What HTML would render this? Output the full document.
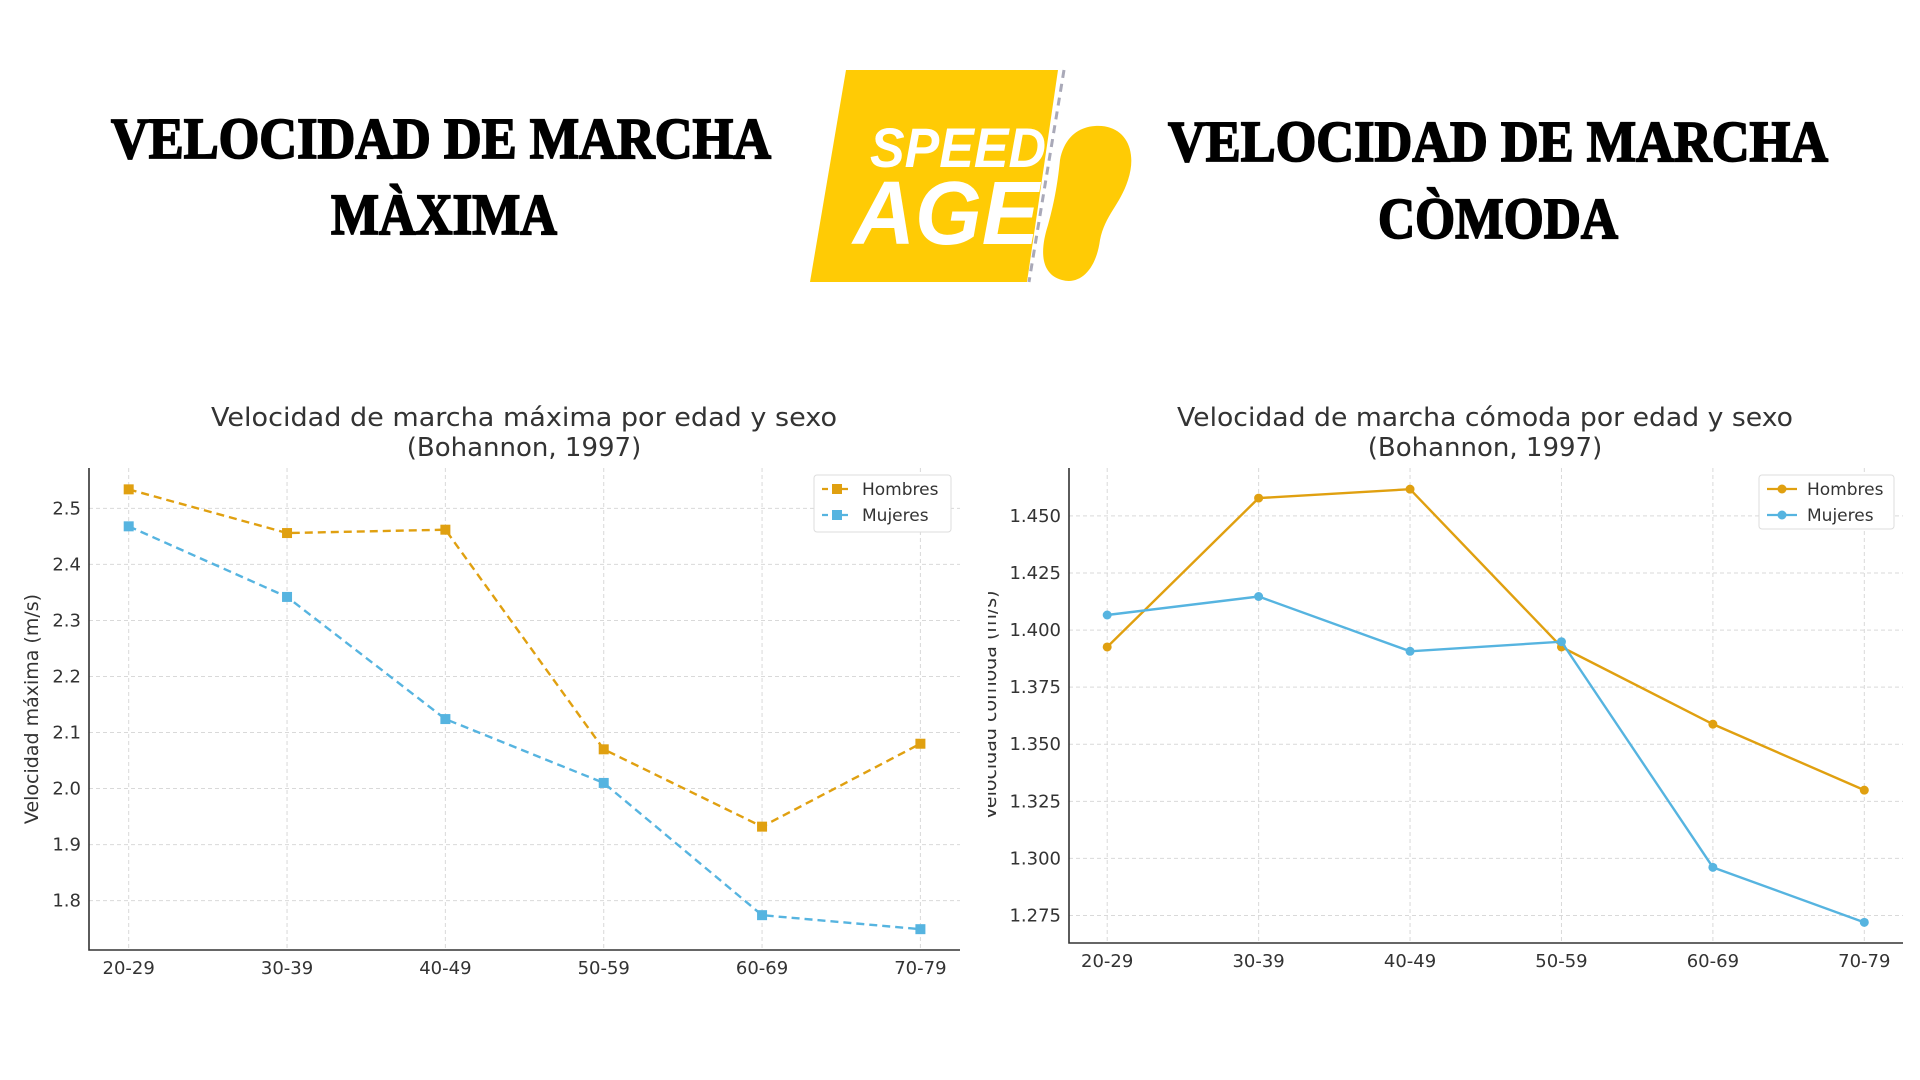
<!DOCTYPE html>
<html><head><meta charset="utf-8"><style>
html,body{margin:0;padding:0;background:#fff;}
svg{display:block;font-family:"DejaVu Sans","Liberation Sans",sans-serif;}
</style></head><body>
<svg id="s" width="1920" height="1080" viewBox="0 0 1920 1080">
<g font-family="Liberation Serif, serif" font-weight="bold" fill="#000" stroke="#000" stroke-width="1.8" text-anchor="middle">
<text x="441" y="158" font-size="58" textLength="660" lengthAdjust="spacingAndGlyphs">VELOCIDAD DE MARCHA</text>
<text x="444" y="234" font-size="58" textLength="226" lengthAdjust="spacingAndGlyphs">MÀXIMA</text>
</g>
<g font-family="Liberation Serif, serif" font-weight="bold" fill="#000" stroke="#000" stroke-width="1.8" text-anchor="middle">
<text x="1498" y="161" font-size="58" textLength="660" lengthAdjust="spacingAndGlyphs">VELOCIDAD DE MARCHA</text>
<text x="1498" y="238" font-size="58" textLength="240" lengthAdjust="spacingAndGlyphs">CÒMODA</text>
</g>
<g>
<polygon points="846,70 1058,70 1027,282 810,282" fill="#FFCB05"/>
<line x1="1064" y1="70" x2="1029" y2="282" stroke="#a9a9b8" stroke-width="3" stroke-dasharray="8,6"/>
<path d="M1095,126 C1125,124 1138,150 1128,180 C1120,205 1105,215 1100,240 C1096,270 1080,285 1062,280 C1040,274 1040,250 1048,225 C1055,200 1058,180 1060,160 C1064,138 1078,127 1095,126 Z" fill="#FFCB05"/>
<text x="870" y="167" font-family="Liberation Sans, sans-serif" font-weight="bold" font-style="italic" font-size="56" fill="#fff" textLength="176" lengthAdjust="spacingAndGlyphs">SPEED</text>
<text x="853" y="244" font-family="Liberation Sans, sans-serif" font-weight="bold" font-style="italic" font-size="90" fill="#fff" textLength="186" lengthAdjust="spacingAndGlyphs">AGE</text>
</g>
<g id="c1"></g>
<g id="c2"></g>
</svg>
<script>
const categories = ["20-29","30-39","40-49","50-59","60-69","70-79"];
const maxHombres = [2.534, 2.456, 2.462, 2.070, 1.932, 2.080];
const maxMujeres = [2.468, 2.342, 2.124, 2.010, 1.774, 1.749];
const maxTicks = [1.8, 1.9, 2.0, 2.1, 2.2, 2.3, 2.4, 2.5];
const maxTickLabels = ["1.8","1.9","2.0","2.1","2.2","2.3","2.4","2.5"];
const comHombres = [1.3926, 1.4578, 1.4617, 1.3926, 1.3588, 1.3299];
const comMujeres = [1.4066, 1.4147, 1.3907, 1.3949, 1.2961, 1.2720];
const comTicks = [1.275, 1.300, 1.325, 1.350, 1.375, 1.400, 1.425, 1.450];
const comTickLabels = ["1.275","1.300","1.325","1.350","1.375","1.400","1.425","1.450"];

const NS = "http://www.w3.org/2000/svg";
function mk(parent, tag, attrs, text){
  const e = document.createElementNS(NS, tag);
  for (const k in attrs) e.setAttribute(k, attrs[k]);
  if (text !== undefined) e.textContent = text;
  parent.appendChild(e);
  return e;
}
function chart(g, o){
  const xS = i => o.x0 + (o.x1 - o.x0) * i / (categories.length - 1);
  const yS = v => o.yA + (v - o.vA) * (o.yB - o.yA) / (o.vB - o.vA);
  categories.forEach((c, i) => {
    const l = mk(g, "line", {x1:xS(i), x2:xS(i), y1:o.top, y2:o.bottom, stroke:"#d9d9d9", "stroke-width":1, "stroke-dasharray":"4,3"});
    
    
    const t = mk(g, "text", {x:xS(i), y:o.bottom + 24, "text-anchor":"middle", "font-size":18, fill:"#333"}, c);
    
    
  });
  o.ticks.forEach((v, i) => {
    const l = mk(g, "line", {x1:o.left, x2:o.right, y1:yS(v), y2:yS(v), stroke:"#d9d9d9", "stroke-width":1, "stroke-dasharray":"4,3"});
    
    
    const t = mk(g, "text", {x:o.left - 8, y:yS(v) + 6, "text-anchor":"end", "font-size":18, fill:"#333"}, o.labels[i]);
    
    
  });
  const ax = mk(g, "path", {d:`M${o.left},${o.top} V${o.bottom} H${o.right}`, fill:"none", stroke:"#333", "stroke-width":1.6});
  
  
  const yl = mk(g, "text", {x:o.ylx, y:o.yly, transform:`rotate(-90 ${o.ylx} ${o.yly})`, "text-anchor":"middle", "font-size":19, fill:"#333"}, o.ylabel);
  
  
  if (o.clip) { const r = mk(g, "rect", {x:o.clip[0], y:o.clip[1], width:o.clip[2], height:o.clip[3], fill:"#fff"});   }
  const t1 = mk(g, "text", {x:o.tx, y:426, "text-anchor":"middle", "font-size":26, fill:"#333", textLength:o.tl, lengthAdjust:"spacingAndGlyphs"}, o.title);
  
  
  const t2 = mk(g, "text", {x:o.tx, y:456, "text-anchor":"middle", "font-size":26, fill:"#333"}, "(Bohannon, 1997)");
  
  
  const series = [[o.h, "#E0A010", "Hombres"], [o.m, "#56B4E0", "Mujeres"]];
  series.forEach(([vals, col, name]) => {
    const pts = vals.map((v, i) => xS(i) + "," + yS(v)).join(" ");
    const pl = mk(g, "polyline", {points:pts, fill:"none", stroke:col, "stroke-width":2.4, "stroke-dasharray":o.dash ? "8,5" : "none"});
    
    
    vals.forEach((v, i) => {
      let m;
      if (o.dash) m = mk(g, "rect", {x:xS(i) - 5, y:yS(v) - 5, width:10, height:10, fill:col});
      else m = mk(g, "circle", {cx:xS(i), cy:yS(v), r:4.5, fill:col});
      
      
    });
  });
  const lg = mk(g, "g", {});
  
  
  mk(lg, "rect", {x:o.lg[0], y:o.lg[1], width:o.lg[2], height:o.lg[3], rx:3, fill:"#fff", stroke:"#ddd"});
  series.forEach(([vals, col, name], k) => {
    const yy = o.lg[1] + 14 + k * 26;
    const le = mk(lg, "g", {});
    
    
    mk(le, "line", {x1:o.lg[0] + 8, x2:o.lg[0] + 38, y1:yy, y2:yy, stroke:col, "stroke-width":2.2, "stroke-dasharray":o.dash ? "6,4" : "none"});
    if (o.dash) mk(le, "rect", {x:o.lg[0] + 18, y:yy - 5, width:10, height:10, fill:col});
    else mk(le, "circle", {cx:o.lg[0] + 23, cy:yy, r:4.5, fill:col});
    mk(le, "text", {x:o.lg[0] + 48, y:yy + 6, "font-size":17, fill:"#333"}, name);
  });
}
chart(document.getElementById("c1"), {
  x0:128.7, x1:920.4, yA:508.4, vA:2.5, yB:900.6, vB:1.8,
  left:89, right:960, top:468, bottom:950, ticks:maxTicks, labels:maxTickLabels,
  h:maxHombres, m:maxMujeres, dash:true, title:"Velocidad de marcha máxima por edad y sexo", tx:524, tl:626,
  ylabel:"Velocidad máxima (m/s)", ylx:38, yly:709, lg:[814,475,137,57]
});
chart(document.getElementById("c2"), {
  x0:1107.2, x1:1864.3, yA:515.9, vA:1.450, yB:915.5, vB:1.275,
  left:1069, right:1903, top:468, bottom:943, ticks:comTicks, labels:comTickLabels,
  h:comHombres, m:comMujeres, dash:false, title:"Velocidad de marcha cómoda por edad y sexo", tx:1485, tl:616,
  ylabel:"Velocidad cómoda (m/s)", ylx:996, yly:705, clip:[960,560,28,300], lg:[1759,475,135,54]
});
</script>
</body></html>
